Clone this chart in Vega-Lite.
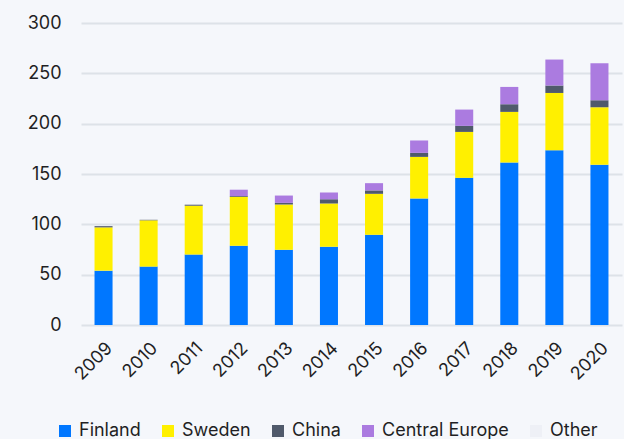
{
  "$schema": "https://vega.github.io/schema/vega-lite/v6.json",
  "width": 541,
  "height": 302,
  "autosize": {"type": "none"},
  "padding": {"left": 81, "top": 23, "right": 2, "bottom": 114},
  "background": "#f5f7fb",
  "config": {
    "view": {"stroke": null},
    "font": "Inter",
    "axis": {"labelFont": "Inter", "labelColor": "#1f1f24"},
    "legend": {"labelFont": "Inter"}
  },
  "data": {
    "values": [
      {"year": "2009", "region": "Finland", "value": 54},
      {"year": "2009", "region": "Sweden", "value": 43},
      {"year": "2009", "region": "China", "value": 1.2},
      {"year": "2009", "region": "Central Europe", "value": 0},
      {"year": "2009", "region": "Other", "value": 0},
      {"year": "2010", "region": "Finland", "value": 58},
      {"year": "2010", "region": "Sweden", "value": 46},
      {"year": "2010", "region": "China", "value": 0.5},
      {"year": "2010", "region": "Central Europe", "value": 0},
      {"year": "2010", "region": "Other", "value": 0},
      {"year": "2011", "region": "Finland", "value": 70},
      {"year": "2011", "region": "Sweden", "value": 48.5},
      {"year": "2011", "region": "China", "value": 1},
      {"year": "2011", "region": "Central Europe", "value": 0},
      {"year": "2011", "region": "Other", "value": 0},
      {"year": "2012", "region": "Finland", "value": 78.7},
      {"year": "2012", "region": "Sweden", "value": 48.6},
      {"year": "2012", "region": "China", "value": 0.8},
      {"year": "2012", "region": "Central Europe", "value": 6.3},
      {"year": "2012", "region": "Other", "value": 0},
      {"year": "2013", "region": "Finland", "value": 74.7},
      {"year": "2013", "region": "Sweden", "value": 45},
      {"year": "2013", "region": "China", "value": 1.6},
      {"year": "2013", "region": "Central Europe", "value": 7.3},
      {"year": "2013", "region": "Other", "value": 0},
      {"year": "2014", "region": "Finland", "value": 77.7},
      {"year": "2014", "region": "Sweden", "value": 43},
      {"year": "2014", "region": "China", "value": 4.3},
      {"year": "2014", "region": "Central Europe", "value": 6.7},
      {"year": "2014", "region": "Other", "value": 0},
      {"year": "2015", "region": "Finland", "value": 89.6},
      {"year": "2015", "region": "Sweden", "value": 40.7},
      {"year": "2015", "region": "China", "value": 3.4},
      {"year": "2015", "region": "Central Europe", "value": 7.2},
      {"year": "2015", "region": "Other", "value": 0},
      {"year": "2016", "region": "Finland", "value": 125.7},
      {"year": "2016", "region": "Sweden", "value": 41.3},
      {"year": "2016", "region": "China", "value": 4},
      {"year": "2016", "region": "Central Europe", "value": 12.3},
      {"year": "2016", "region": "Other", "value": 0},
      {"year": "2017", "region": "Finland", "value": 146.2},
      {"year": "2017", "region": "Sweden", "value": 45.6},
      {"year": "2017", "region": "China", "value": 6},
      {"year": "2017", "region": "Central Europe", "value": 16.2},
      {"year": "2017", "region": "Other", "value": 0},
      {"year": "2018", "region": "Finland", "value": 161.4},
      {"year": "2018", "region": "Sweden", "value": 50.3},
      {"year": "2018", "region": "China", "value": 7.6},
      {"year": "2018", "region": "Central Europe", "value": 17.2},
      {"year": "2018", "region": "Other", "value": 0},
      {"year": "2019", "region": "Finland", "value": 173.7},
      {"year": "2019", "region": "Sweden", "value": 56.8},
      {"year": "2019", "region": "China", "value": 7.4},
      {"year": "2019", "region": "Central Europe", "value": 25.8},
      {"year": "2019", "region": "Other", "value": 0},
      {"year": "2020", "region": "Finland", "value": 159.1},
      {"year": "2020", "region": "Sweden", "value": 57.3},
      {"year": "2020", "region": "China", "value": 6.9},
      {"year": "2020", "region": "Central Europe", "value": 36.7},
      {"year": "2020", "region": "Other", "value": 0}
    ]
  },
  "transform": [
    {"calculate": "indexof(['Finland','Sweden','China','Central Europe','Other'], datum.region)", "as": "rank"}
  ],
  "mark": {"type": "bar"},
  "encoding": {
    "x": {
      "field": "year",
      "type": "ordinal",
      "title": null,
      "scale": {"paddingInner": 0.6, "paddingOuter": 0.3},
      "axis": {
        "labelAngle": -45,
        "labelFontSize": 18,
        "domain": false,
        "ticks": false,
        "labelPadding": 14
      }
    },
    "y": {
      "field": "value",
      "type": "quantitative",
      "aggregate": "sum",
      "title": null,
      "stack": "zero",
      "scale": {"domain": [0, 300], "nice": false},
      "axis": {
        "values": [0, 50, 100, 150, 200, 250, 300],
        "labelFontSize": 18,
        "domain": false,
        "ticks": false,
        "labelPadding": 20,
        "gridColor": "#dde2e8",
        "gridWidth": 2
      }
    },
    "color": {
      "field": "region",
      "type": "nominal",
      "scale": {
        "domain": ["Finland", "Sweden", "China", "Central Europe", "Other"],
        "range": ["#0077ff", "#fff000", "#505a6b", "#ab7be0", "#eef0f6"]
      },
      "legend": {
        "title": null,
        "orient": "none",
        "direction": "horizontal",
        "legendX": -25,
        "legendY": 399,
        "symbolType": "square",
        "symbolSize": 144,
        "symbolStrokeWidth": 0,
        "labelFontSize": 18,
        "labelColor": "#1f1f24",
        "labelOffset": 5,
        "columnPadding": 18,
        "labelLimit": 300
      }
    },
    "order": {"field": "rank", "type": "quantitative"}
  }
}
